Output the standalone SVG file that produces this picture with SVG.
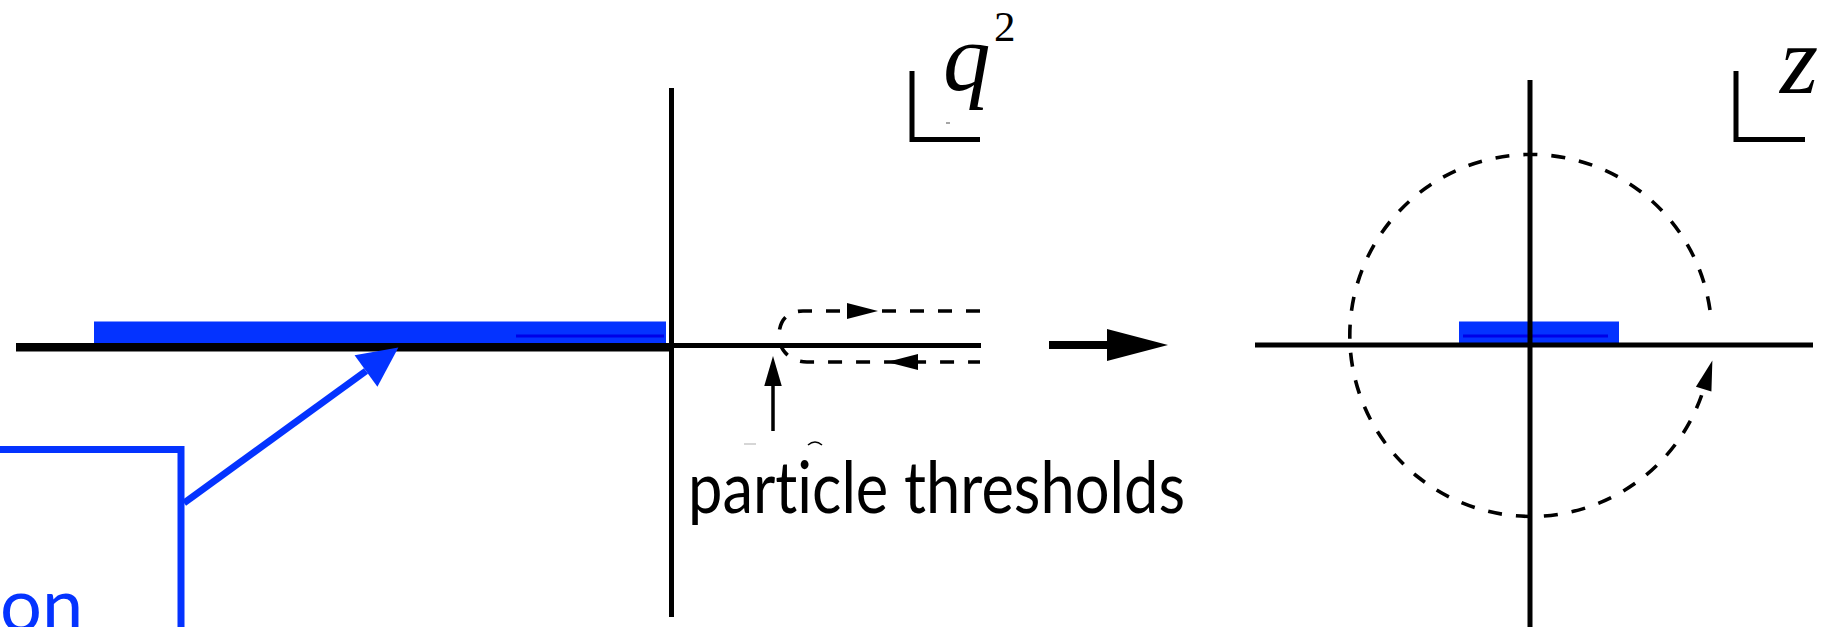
<svg xmlns="http://www.w3.org/2000/svg" width="1826" height="627" viewBox="0 0 1826 627">
  <style>
    .axis { stroke: #000; stroke-width: 5; fill: none; }
    .dash { stroke: #000; stroke-width: 3.6; fill: none; stroke-dasharray: 14 14; }
    .bar { fill: #0433FF; }
    .inner { stroke: #0000E8; stroke-width: 3; }
    .head { fill: #000; }
    .math { font-family: "Liberation Serif", "DejaVu Serif", serif; font-style: italic; fill: #000; }
    .label { font-family: Lato, "Open Sans", "Liberation Sans", sans-serif; fill: #000; font-variant-ligatures: none; font-feature-settings: "liga" 0, "clig" 0; }
  </style>
  <defs>
    <marker id="blueHead" markerUnits="userSpaceOnUse" markerWidth="40" markerHeight="40" viewBox="0 -17 35 34" refX="0" refY="0" orient="auto" overflow="visible">
      <path d="M0,-17 L35,0 L0,17 z" fill="#0433FF"/>
    </marker>
    <marker id="blackHead" markerUnits="userSpaceOnUse" markerWidth="30" markerHeight="20" viewBox="0 -7 24 14" refX="0" refY="0" orient="auto" overflow="visible">
      <path d="M0,-7 L24,0 L0,7 z" fill="#000"/>
    </marker>
    <marker id="arcHead" markerUnits="userSpaceOnUse" markerWidth="30" markerHeight="20" viewBox="0 -7 26 14" refX="1" refY="0" orient="auto" overflow="visible">
      <path d="M0,-7 L26,0 L0,7 z" fill="#000"/>
    </marker>
  </defs>

  <g id="q2-plane">
    <rect class="bar" x="94" y="321.5" width="572" height="22"/>
    <line class="inner" x1="516" y1="336" x2="664" y2="336"/>
    <line x1="16" y1="347.2" x2="673" y2="347.2" stroke="#000" stroke-width="8.5"/>
    <line class="axis" x1="671" y1="345.5" x2="981" y2="345.5"/>
    <line class="axis" x1="671.5" y1="88" x2="671.5" y2="617"/>
  </g>

  <g id="q2-label">
    <path class="axis" d="M912,71 V139.5 H980"/>
    <text class="math" x="943" y="90" font-size="95">q</text>
    <text x="994" y="41" font-size="43" font-family="Liberation Serif, DejaVu Serif, serif" fill="#000">2</text>
    <line x1="946" y1="123" x2="950" y2="123" stroke="#888" stroke-width="1.5"/>
  </g>

  <g id="contour">
    <path class="dash" d="M980,311 H803 C786,311 779,322 779,336 C779,350 790,362 807,362 H980"/>
    <polygon class="head" points="847,303 878,311 847,319"/>
    <polygon class="head" points="918,354 887,362 918,370"/>
  </g>

  <g id="thresholds-label">
    <text class="label" x="688" y="513" font-size="71" textLength="497" lengthAdjust="spacingAndGlyphs">particle thresholds</text>
    <path d="M808,445 Q815,439 822,445" stroke="#000" stroke-width="1.5" fill="none"/>
    <line x1="744" y1="444" x2="756" y2="444" stroke="#bbb" stroke-width="1.2"/>
  </g>

  <g id="map-arrow">
    <rect x="1049" y="341" width="58" height="8" fill="#000"/>
    <polygon class="head" points="1107,329 1168,345 1107,361"/>
  </g>

  <g id="z-plane">
    <rect class="bar" x="1459" y="321.5" width="160" height="22"/>
    <line class="inner" x1="1463" y1="336" x2="1608" y2="336"/>
    <line class="axis" x1="1255" y1="345" x2="1813" y2="345"/>
    <line class="axis" x1="1530" y1="80" x2="1530" y2="627"/>
  </g>

  <g id="z-label">
    <path class="axis" d="M1736,71 V139.5 H1805"/>
    <text class="math" x="1780" y="93" font-size="98">z</text>
  </g>

  <g id="blue-box">
    <path d="M-5,449.5 H181 V632" stroke="#0433FF" stroke-width="7" fill="none"/>
    <text x="0" y="631" font-size="74" font-family="Lato, Open Sans, Liberation Sans, sans-serif" fill="#0433FF">on</text>
  </g>

  <g id="connectors">
    <line x1="184" y1="503" x2="366" y2="371" stroke="#0433FF" stroke-width="7" marker-end="url(#blueHead)"/>
    <line x1="773" y1="431" x2="773" y2="386" stroke="#000" stroke-width="3.5" marker-end="url(#blackHead)"/>
    <path class="dash" d="M1710,310 A181,181 0 1 0 1704,388" marker-end="url(#arcHead)"/>
  </g>
</svg>
